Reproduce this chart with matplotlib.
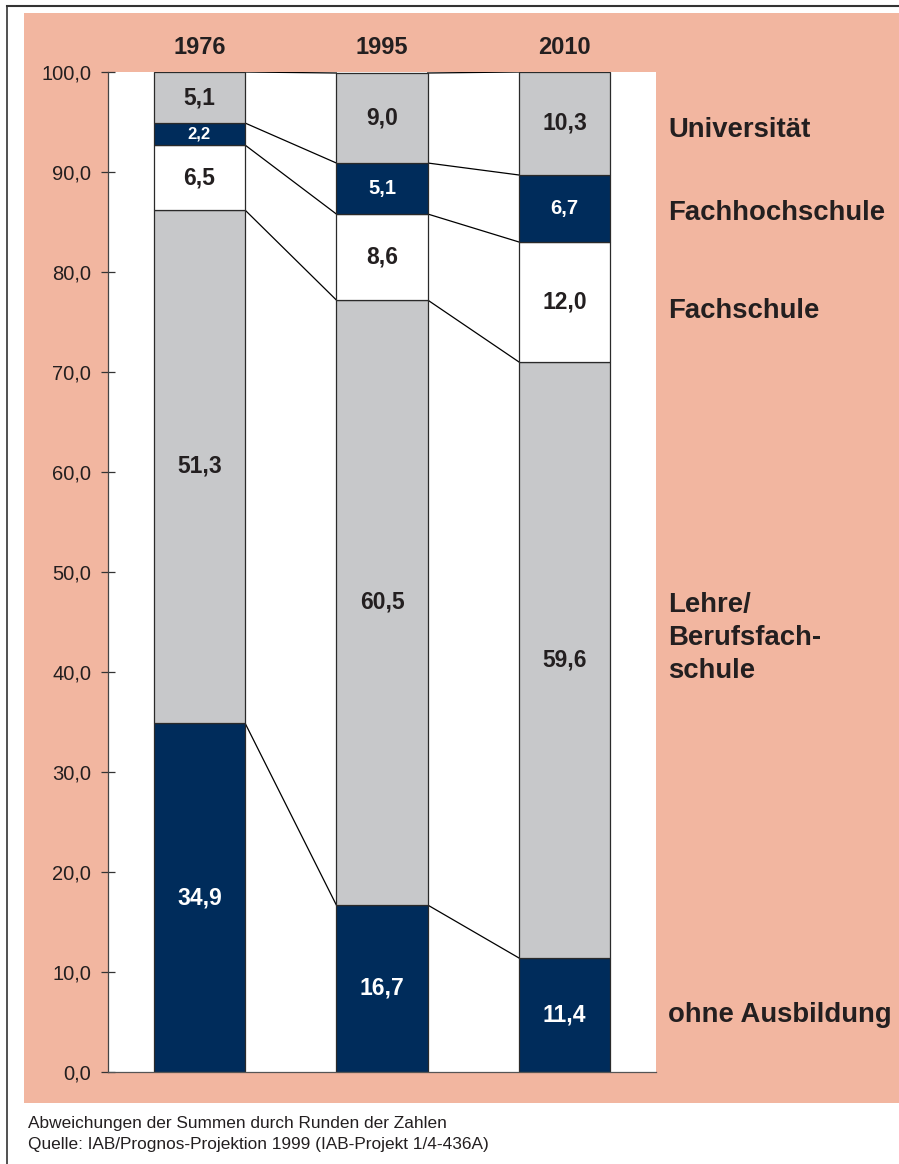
"""
Qualifikationsstruktur 1976 / 1995 / 2010 - gestapelte Säulen
"""

import matplotlib.pyplot as plt
from matplotlib.patches import Rectangle
import numpy as np

plt.rcParams["font.family"] = ["Liberation Sans", "DejaVu Sans"]

years = ["1976", "1995", "2010"]
categories = ["ohne Ausbildung", "Lehre/\nBerufsfach-\nschule", "Fachschule",
              "Fachhochschule", "Universität"]

ohne_ausbildung = [34.9, 16.7, 11.4]
lehre = [51.3, 60.5, 59.6]
fachschule = [6.5, 8.6, 12.0]
fachhochschule = [2.2, 5.1, 6.7]
universitaet = [5.1, 9.0, 10.3]

y_ticks = [0, 10, 20, 30, 40, 50, 60, 70, 80, 90, 100]

notes = [
    "Abweichungen der Summen durch Runden der Zahlen",
    "Quelle: IAB/Prognos-Projektion 1999 (IAB-Projekt 1/4-436A)",
]

SALMON = "#F2B6A0"
NAVY = "#002C5B"
GREY = "#C7C8CA"
INK = "#231F20"

W, H = 899, 1164


def fx(px):
    return px / W


def fy(py):
    return 1 - py / H


series = [ohne_ausbildung, lehre, fachschule, fachhochschule, universitaet]
colors = [NAVY, GREY, "white", NAVY, GREY]
text_colors = ["white", INK, INK, "white", INK]
label_sizes = [16.5, 16.5, 16.5, 14.5, 16.5]

fig = plt.figure(figsize=(W / 100, H / 100), dpi=100)
fig.patch.set_facecolor("white")

# outer frame and salmon panel
fig.add_artist(plt.Line2D([fx(7), fx(7)], [fy(6), 0], color="#333333", lw=1.2))
fig.add_artist(plt.Line2D([fx(7), 1], [fy(6), fy(6)], color="#333333", lw=1.5))
fig.add_artist(Rectangle((fx(24), fy(1103)), 1 - fx(24), fy(13) - fy(1103),
                         facecolor=SALMON, edgecolor="none", zorder=0))

ax = fig.add_axes([fx(108), fy(1072), fx(656) - fx(108), fy(72) - fy(1072)])
ax.set_facecolor("white")

x = np.arange(len(years))
width = 0.5
bottom = np.zeros(len(years))
tops = [bottom.copy()]

for vals, col, tcol, fs in zip(series, colors, text_colors, label_sizes):
    vals = np.array(vals)
    ax.bar(x, vals, width, bottom=bottom, color=col, edgecolor="#2a2a2a",
           linewidth=0.9, zorder=2)
    for xi, b, v in zip(x, bottom, vals):
        size = 12 if v < 3 else fs  # thin segment gets a smaller label
        ax.text(xi, b + v / 2, f"{v:.1f}".replace(".", ","), ha="center",
                va="center", fontsize=size, fontweight="bold", color=tcol,
                zorder=3)
    bottom = bottom + vals
    tops.append(bottom.copy())

# connector lines between bars
for level in tops[1:]:
    for i in range(len(years) - 1):
        ax.plot([x[i] + width / 2, x[i + 1] - width / 2],
                [level[i], level[i + 1]], color="black", lw=0.9, zorder=1)

for xi, yr in zip(x, years):
    ax.text(xi, 102.5, yr, ha="center", va="center", fontsize=17,
            fontweight="bold", color=INK, clip_on=False)

ax.set_xlim(-0.5, 2.5)
ax.set_ylim(0, 100)
ax.set_xticks([])
ax.set_yticks(y_ticks)
ax.set_yticklabels([f"{t:.1f}".replace(".", ",") for t in y_ticks],
                   fontsize=14.5, color=INK)
ax.tick_params(axis="y", direction="inout", length=10, width=0.9,
               color="#333333", pad=7)
for side in ["top", "right"]:
    ax.spines[side].set_visible(False)
ax.spines["left"].set_color("#444444")
ax.spines["bottom"].set_color("#555555")
ax.spines["left"].set_linewidth(0.9)
ax.spines["bottom"].set_linewidth(0.9)

# category labels on the right
label_baselines = [1022, 612, 318, 220, 137]
for name, base in zip(categories, label_baselines):
    for k, line in enumerate(name.split("\n")):
        fig.text(fx(668), fy(base + 33 * k), line, ha="left", va="baseline",
                 fontsize=19.8, fontweight="bold", color=INK)

for k, note in enumerate(notes):
    fig.text(fx(28), fy(1128 + 21 * k), note, ha="left", va="baseline",
             fontsize=12.4, color=INK)

plt.savefig("out.png", dpi=100)
plt.close()
